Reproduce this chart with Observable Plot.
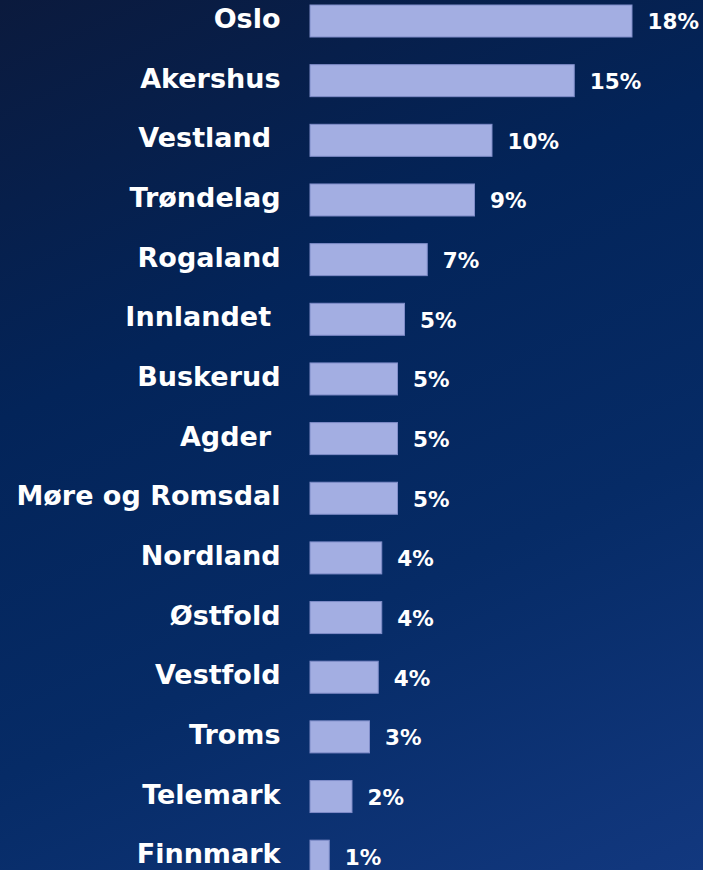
<!DOCTYPE html>
<html>
<head>
<meta charset="utf-8">
<script src="https://cdn.jsdelivr.net/npm/d3@7"></script>
<script src="https://cdn.jsdelivr.net/npm/@observablehq/plot@0.6"></script>
<style>
  html, body { margin: 0; padding: 0; }
  body {
    width: 703px; height: 870px; overflow: hidden;
    background: linear-gradient(155deg, #0b1a3d 0%, #032459 35%, #062b66 65%, #12387f 100%);
  }
  svg text { white-space: pre; }
</style>
</head>
<body>
<div id="chart"></div>
<script>
const regions = ["Oslo", "Akershus", "Vestland ", "Trøndelag", "Rogaland", "Innlandet ", "Buskerud", "Agder ", "Møre og Romsdal", "Nordland", "Østfold", "Vestfold", "Troms", "Telemark", "Finnmark"];
const shares = [18.4, 15.1, 10.4, 9.4, 6.7, 5.4, 5.0, 5.0, 5.0, 4.1, 4.1, 3.9, 3.4, 2.4, 1.1];

const data = regions.map((r, i) => ({region: r, share: shares[i], label: Math.round(shares[i]) + "%"}));

const chart = Plot.plot({
  width: 703,
  height: 870,
  marginLeft: 310,
  marginRight: 71,
  marginTop: 0,
  marginBottom: 0,
  style: {background: "transparent", fontFamily: "DejaVu Sans", overflow: "visible"},
  x: {domain: [0, 18.4], axis: null},
  y: {domain: regions, range: [5, 872.2], round: false, paddingInner: 0.4634, paddingOuter: 0, align: 0, axis: null},
  marks: [
    Plot.barX(data, {y: "region", x: "share", fill: "#a3aee2", stroke: "#7f8cc8", strokeWidth: 1}),
    Plot.text(data, {y: "region", x: 0, text: "region", textAnchor: "end", dx: -30, dy: -2, fill: "white", fontSize: 27, fontWeight: "bold"}),
    Plot.text(data, {y: "region", x: "share", text: "label", textAnchor: "start", dx: 15, dy: 1, fill: "white", fontSize: 21.5, fontWeight: "bold"})
  ]
});
document.getElementById("chart").appendChild(chart);
</script>
</body>
</html>
